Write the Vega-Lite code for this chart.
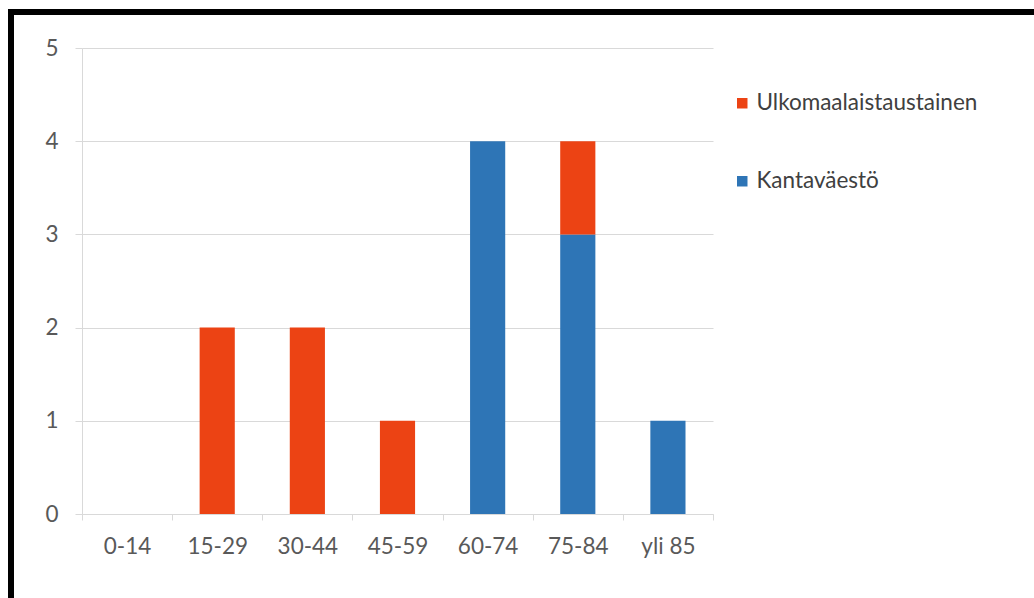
{
  "$schema": "https://vega.github.io/schema/vega-lite/v6.json",
  "width": 1030,
  "height": 590,
  "autosize": {"type": "none"},
  "padding": {"left": 11, "top": 12, "right": 0, "bottom": 0},
  "background": "white",
  "config": {
    "view": {"stroke": "black", "strokeWidth": 6, "fill": "white"},
    "font": "Lato"
  },
  "data": {
    "values": [
      {"ika": "0-14", "ryhma": "Kantaväestö", "lkm": 0},
      {"ika": "0-14", "ryhma": "Ulkomaalaistaustainen", "lkm": 0},
      {"ika": "15-29", "ryhma": "Ulkomaalaistaustainen", "lkm": 2},
      {"ika": "30-44", "ryhma": "Ulkomaalaistaustainen", "lkm": 2},
      {"ika": "45-59", "ryhma": "Ulkomaalaistaustainen", "lkm": 1},
      {"ika": "60-74", "ryhma": "Kantaväestö", "lkm": 4},
      {"ika": "75-84", "ryhma": "Kantaväestö", "lkm": 3},
      {"ika": "75-84", "ryhma": "Ulkomaalaistaustainen", "lkm": 1},
      {"ika": "yli 85", "ryhma": "Kantaväestö", "lkm": 1}
    ]
  },
  "mark": {"type": "bar", "width": {"band": 0.39}},
  "encoding": {
    "x": {
      "field": "ika",
      "type": "nominal",
      "scale": {
        "domain": ["0-14", "15-29", "30-44", "45-59", "60-74", "75-84", "yli 85"],
        "range": [71, 702],
        "paddingInner": 0,
        "paddingOuter": 0
      },
      "axis": {
        "orient": "bottom",
        "offset": -88,
        "title": null,
        "tickBand": "extent",
        "grid": false,
        "domainColor": "#D9D9D9",
        "tickColor": "#D9D9D9",
        "tickSize": 6,
        "labelAngle": 0,
        "labelFontSize": 22.5,
        "labelColor": "#595959",
        "labelPadding": 15
      }
    },
    "y": {
      "field": "lkm",
      "type": "quantitative",
      "stack": "zero",
      "scale": {"domain": [0, 5], "range": [502, 36], "nice": false},
      "axis": {
        "offset": -71,
        "title": null,
        "values": [0, 1, 2, 3, 4, 5],
        "grid": true,
        "gridColor": "#D9D9D9",
        "domainColor": "#D9D9D9",
        "tickColor": "#D9D9D9",
        "tickSize": 7,
        "labelFontSize": 22.5,
        "labelColor": "#595959",
        "labelPadding": 17
      }
    },
    "color": {
      "field": "ryhma",
      "type": "nominal",
      "scale": {
        "domain": ["Ulkomaalaistaustainen", "Kantaväestö"],
        "range": ["#EC4314", "#2E75B6"]
      },
      "legend": {
        "orient": "none",
        "legendX": 720,
        "legendY": 80,
        "title": null,
        "symbolType": "square",
        "symbolSize": 110,
        "symbolStrokeWidth": 0,
        "labelFontSize": 22.5,
        "labelColor": "#404040",
        "labelLimit": 400,
        "rowPadding": 55,
        "labelOffset": 3
      }
    },
    "order": {"field": "ryhma", "sort": "ascending"}
  }
}
